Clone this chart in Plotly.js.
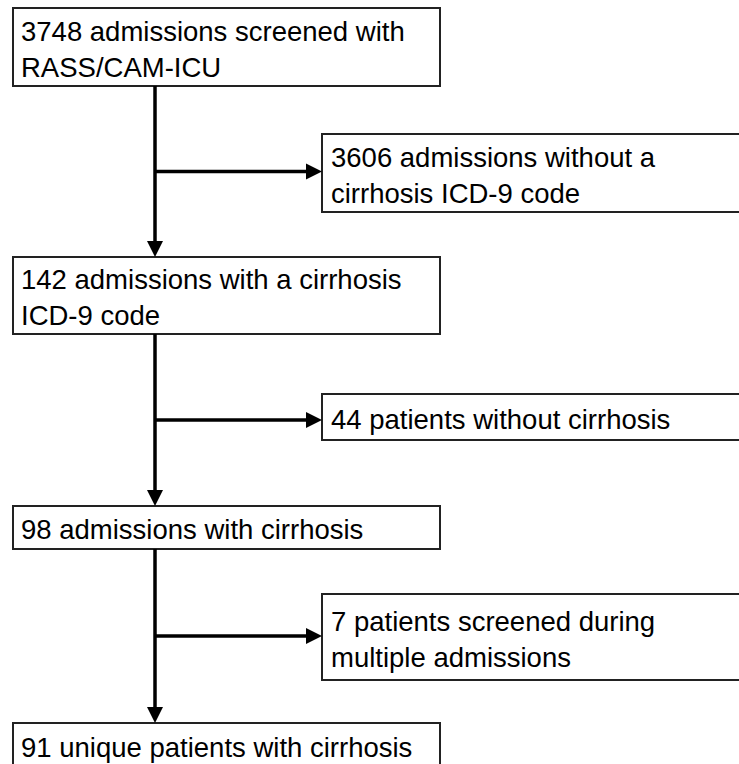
<!DOCTYPE html>
<html>
<head>
<meta charset="utf-8">
<script src="https://cdn.plot.ly/plotly-3.0.1.min.js"></script>
<style>html,body{margin:0;padding:0;background:#fff;}#chart{width:739px;height:764px;}</style>
</head>
<body>
<div id="chart"></div>
<script>
// ---- data ----
const mainCounts = [3748, 142, 98, 91];
const mainLabels = ['admissions screened with<br>RASS/CAM-ICU', 'admissions with a cirrhosis<br>ICD-9 code', 'admissions with cirrhosis', 'unique patients with cirrhosis'];
const excludedCounts = [3606, 44, 7];
const excludedLabels = ['admissions without a<br>cirrhosis ICD-9 code', 'patients without cirrhosis', 'patients screened during<br>multiple admissions'];

// ---- layout geometry (page pixels) ----
const W = 739, H = 764;
const mainX = [13, 440];
const sideX = [322, 770];
const mainY = [[8, 86], [257, 334], [506, 549], [723, 767]];
const sideY = [[134, 212], [394, 440], [594, 680]];
const trunkX = 155;
const headLen = 16, headHalf = 8;
const boxLine = {color: '#222', width: 2};
const arrowLine = {color: '#000', width: 3.5};
const font = {family: 'Liberation Sans, Arial, sans-serif', size: 27.5, color: '#000'};

const shapes = [];
const annotations = [];

function box(x, y) {
  shapes.push({type: 'rect', xref: 'x', yref: 'y', x0: x[0], x1: x[1], y0: y[0], y1: y[1],
    line: boxLine, fillcolor: '#fff', layer: 'above'});
}
function text(x, y, t) {
  annotations.push({xref: 'x', yref: 'y', x: x, y: y, text: t, showarrow: false,
    xanchor: 'left', yanchor: 'middle', align: 'left', font: font});
}

mainCounts.forEach((c, i) => {
  box(mainX, mainY[i]);
  text(mainX[0] + 6, (mainY[i][0] + mainY[i][1]) / 2 + 2, c + ' ' + mainLabels[i]);
});
excludedCounts.forEach((c, i) => {
  box(sideX, sideY[i]);
  text(sideX[0] + 7, (sideY[i][0] + sideY[i][1]) / 2 + 2, c + ' ' + excludedLabels[i]);
});

// trunks with arrows
for (let i = 0; i < 3; i++) {
  const y0 = mainY[i][1], y1 = mainY[i + 1][0];
  shapes.push({type: 'line', xref: 'x', yref: 'y', x0: trunkX, x1: trunkX, y0: y0, y1: y1 - headLen + 2, line: arrowLine});
  shapes.push({type: 'path', xref: 'x', yref: 'y',
    path: `M ${trunkX - headHalf} ${y1 - headLen} L ${trunkX + headHalf} ${y1 - headLen} L ${trunkX} ${y1} Z`,
    fillcolor: '#000', line: {width: 0}});
  const by = (y0 + y1) / 2;
  shapes.push({type: 'line', xref: 'x', yref: 'y', x0: trunkX, x1: sideX[0] - headLen + 2, y0: by, y1: by, line: arrowLine});
  shapes.push({type: 'path', xref: 'x', yref: 'y',
    path: `M ${sideX[0] - headLen} ${by - headHalf} L ${sideX[0] - headLen} ${by + headHalf} L ${sideX[0]} ${by} Z`,
    fillcolor: '#000', line: {width: 0}});
}

const layout = {
  width: W, height: H,
  margin: {l: 0, r: 0, t: 0, b: 0, pad: 0},
  paper_bgcolor: '#fff', plot_bgcolor: '#fff',
  xaxis: {range: [0, W], visible: false, fixedrange: true},
  yaxis: {range: [H, 0], visible: false, fixedrange: true},
  showlegend: false,
  shapes: shapes,
  annotations: annotations
};
Plotly.newPlot('chart', [], layout, {displayModeBar: false, staticPlot: true});
</script>
</body>
</html>
